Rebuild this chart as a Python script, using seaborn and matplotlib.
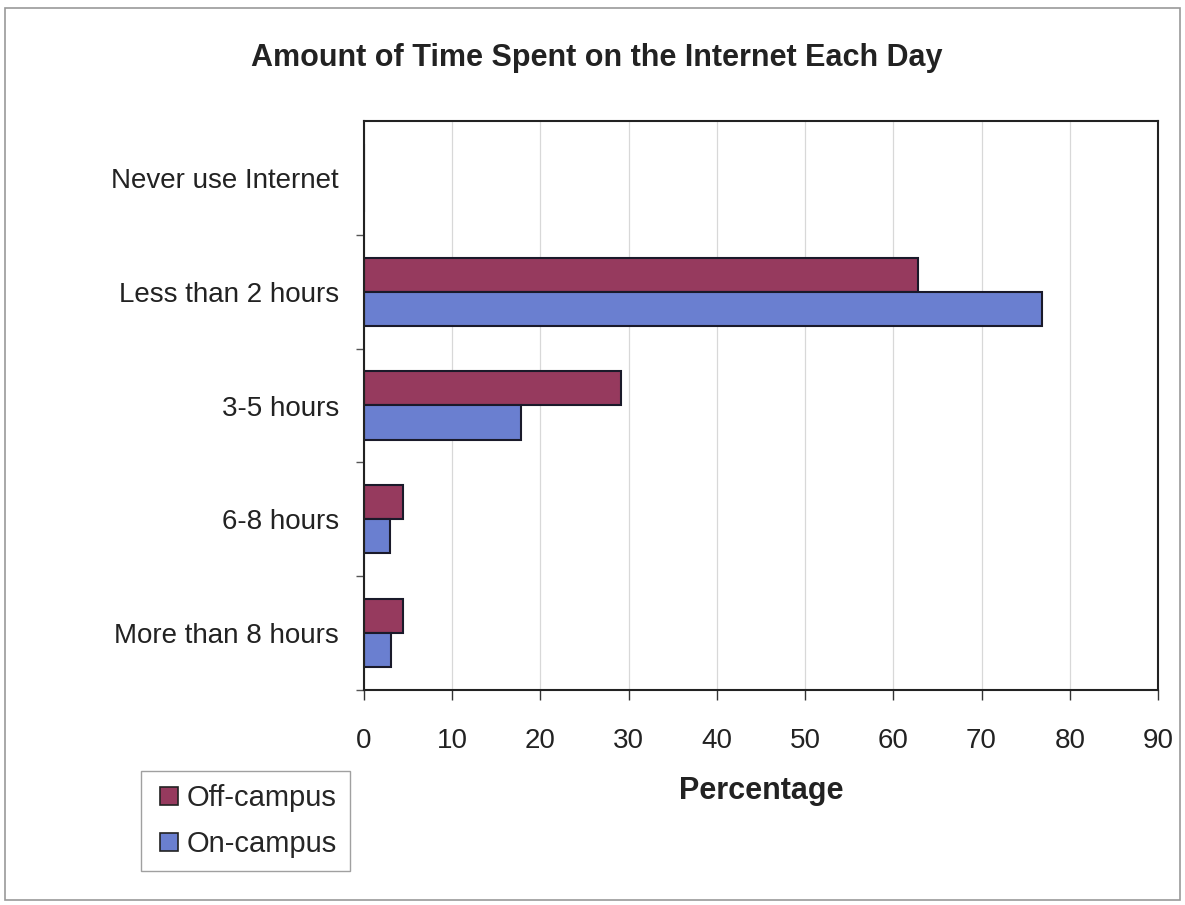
import matplotlib
matplotlib.use("Agg")
import matplotlib.pyplot as plt
import seaborn as sns
import pandas as pd
from matplotlib.patches import Rectangle
from matplotlib.lines import Line2D

categories = ["Never use Internet", "Less than 2 hours", "3-5 hours", "6-8 hours", "More than 8 hours"]
off_campus = [0.0, 62.8, 29.1, 4.4, 4.4]
on_campus = [0.0, 76.8, 17.8, 3.0, 3.1]
series = ["Off-campus", "On-campus"]
colors = ["#963A5E", "#6A7FD0"]
xticks = [0, 10, 20, 30, 40, 50, 60, 70, 80, 90]

df = pd.DataFrame({
    "Category": categories * 2,
    "Value": off_campus + on_campus,
    "Series": [series[0]] * len(categories) + [series[1]] * len(categories),
})

sns.set_theme(style="white")
plt.rcParams["font.family"] = ["Liberation Sans", "DejaVu Sans"]

fig = plt.figure(figsize=(11.85, 9.05), dpi=100)
ax = fig.add_axes([364/1185, 1-690/905, (1158-364)/1185, (690-121)/905])

sns.barplot(data=df, x="Value", y="Category", hue="Series", order=categories,
            hue_order=series, palette=colors, orient="h", width=0.6,
            edgecolor="#1a1a2a", linewidth=1.5, saturation=1, ax=ax, legend=False)

ax.set_xlim(0, 90)
ax.set_ylim(4.5, -0.5)
ax.set_xticks(xticks)
ax.set_xticklabels([str(t) for t in xticks], fontsize=20, color="#222222")
for lbl in ax.get_yticklabels():
    lbl.set_color("#222222")
ax.tick_params(axis="y", which="major", length=0, labelsize=20, pad=18)
ax.set_yticks([0.5, 1.5, 2.5, 3.5, 4.5], minor=True)
ax.tick_params(axis="y", which="minor", length=6, width=1, direction="out", left=True, color="#555555")
ax.tick_params(axis="x", which="major", length=7, width=1, direction="out", bottom=True, color="#333333", pad=20)
ax.set_ylabel("")
ax.set_xlabel("Percentage", fontsize=22, fontweight="bold", labelpad=16, color="#222222")
ax.xaxis.grid(True, color="#d8d8d8", linewidth=0.9)
ax.set_axisbelow(True)
for s in ax.spines.values():
    s.set_color("#222222")
    s.set_linewidth(1.5)
    s.set_visible(True)

fig.text(597/1185, 1-58/905, "Amount of Time Spent on the Internet Each Day",
         ha="center", va="center", fontsize=22, fontweight="bold", color="#222222")

handles = [Line2D([0], [0], marker="s", linestyle="none", markersize=13,
                  markerfacecolor=c, markeredgecolor="#222222", markeredgewidth=1.2)
           for c in colors]
leg = fig.legend(handles, series, loc="lower left", bbox_to_anchor=(141/1185, 1-871/905),
                 fontsize=21, frameon=True, fancybox=False, handletextpad=0.1,
                 borderpad=0.45, labelspacing=0.6, handlelength=1.0, borderaxespad=0)
leg.get_frame().set_edgecolor("#888888")
leg.get_frame().set_linewidth(1.0)

fig.patches.append(Rectangle((5/1185, 1-900/905), 1175/1185, 892/905,
                             transform=fig.transFigure, fill=False,
                             edgecolor="#999999", linewidth=1.2))

fig.savefig("out.png", dpi=100, facecolor="white")
